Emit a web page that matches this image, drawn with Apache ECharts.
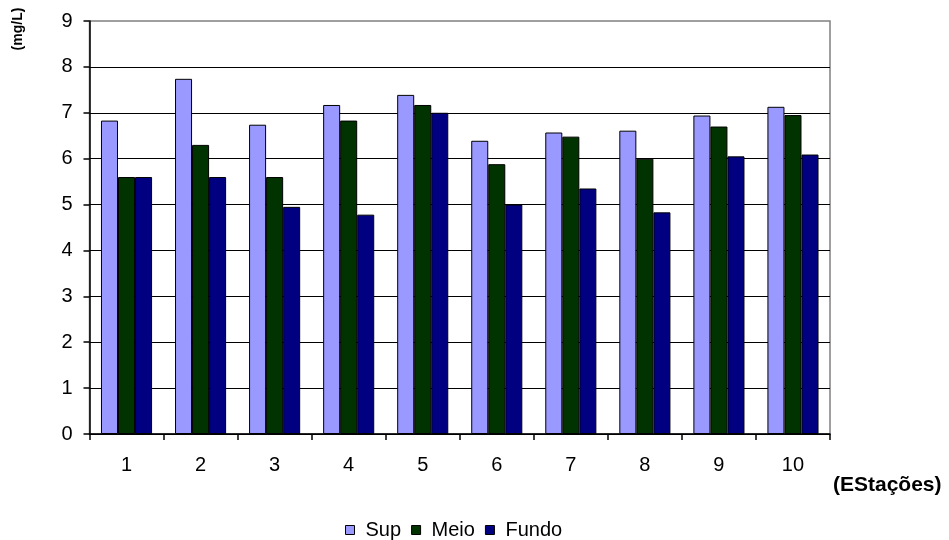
<!DOCTYPE html>
<html>
<head>
<meta charset="utf-8">
<script src="https://cdn.jsdelivr.net/npm/echarts@6/dist/echarts.min.js"></script>
<style>
  html, body { margin: 0; padding: 0; background: #fff; }
  #chart { width: 949px; height: 540px; }
</style>
</head>
<body>
<div id="chart"></div>
<script>
// Stations along the x axis
const estacoes = ['1', '2', '3', '4', '5', '6', '7', '8', '9', '10'];
// Dissolved oxygen (mg/L) by depth
const sup   = [6.83, 7.74, 6.74, 7.17, 7.39, 6.39, 6.57, 6.61, 6.94, 7.13];
const meio  = [5.60, 6.30, 5.60, 6.83, 7.17, 5.88, 6.48, 6.00, 6.70, 6.95];
const fundo = [5.60, 5.60, 4.95, 4.78, 7.00, 5.00, 5.35, 4.83, 6.05, 6.09];
const seriesNames = ['Sup', 'Meio', 'Fundo'];

const FONT = 'Liberation Sans, Arial, sans-serif';
const chart = echarts.init(document.getElementById('chart'));

const barStyle = (color) => ({ color: color, borderColor: '#000', borderWidth: 1 });

chart.setOption({
  animation: false,
  backgroundColor: '#fff',
  textStyle: { fontFamily: FONT },
  grid: {
    left: 89.5, right: 119, top: 21, bottom: 106,
    show: true, borderColor: '#808080', borderWidth: 1.5
  },
  legend: {
    data: seriesNames,
    left: 345, top: 520,
    padding: 0,
    itemWidth: 9, itemHeight: 9, itemGap: 10,
    icon: 'rect',
    itemStyle: { borderColor: '#000', borderWidth: 1 },
    textStyle: { fontFamily: FONT, fontSize: 20, color: '#000', padding: [0, 0, 0, 6] }
  },
  xAxis: {
    type: 'category',
    data: estacoes,
    axisLine: { lineStyle: { color: '#000', width: 1.5 } },
    axisTick: { show: true, length: 6, lineStyle: { color: '#000', width: 1.5 } },
    axisLabel: { fontFamily: FONT, fontSize: 20, color: '#000', margin: 21 },
    splitLine: { show: false }
  },
  yAxis: {
    type: 'value',
    min: 0, max: 9, interval: 1,
    axisLine: { show: true, lineStyle: { color: '#000', width: 1.5 } },
    axisTick: { show: true, length: 6, lineStyle: { color: '#000', width: 1.5 } },
    axisLabel: { fontFamily: FONT, fontSize: 20, color: '#000', margin: 17 },
    splitLine: { show: true, showMaxLine: false, lineStyle: { color: '#000', width: 1.2 } }
  },
  series: [
    { name: seriesNames[0], type: 'bar', data: sup, itemStyle: barStyle('#9999FF'),
      barGap: '0%', barCategoryGap: '31%' },
    { name: seriesNames[1], type: 'bar', data: meio, itemStyle: barStyle('#003300'),
      barGap: '0%', barCategoryGap: '31%' },
    { name: seriesNames[2], type: 'bar', data: fundo, itemStyle: barStyle('#000080'),
      barGap: '0%', barCategoryGap: '31%' }
  ],
  graphic: [
    {
      type: 'text', x: 18, y: 29, rotation: Math.PI / 2,
      style: {
        text: '(mg/L)', font: 'bold 14px ' + FONT, fill: '#000',
        textAlign: 'center', textVerticalAlign: 'middle'
      }
    },
    {
      type: 'text', x: 833, y: 485,
      style: {
        text: '(EStações)', font: 'bold 21px ' + FONT, fill: '#000',
        textAlign: 'left', textVerticalAlign: 'middle'
      }
    }
  ]
});
</script>
</body>
</html>
